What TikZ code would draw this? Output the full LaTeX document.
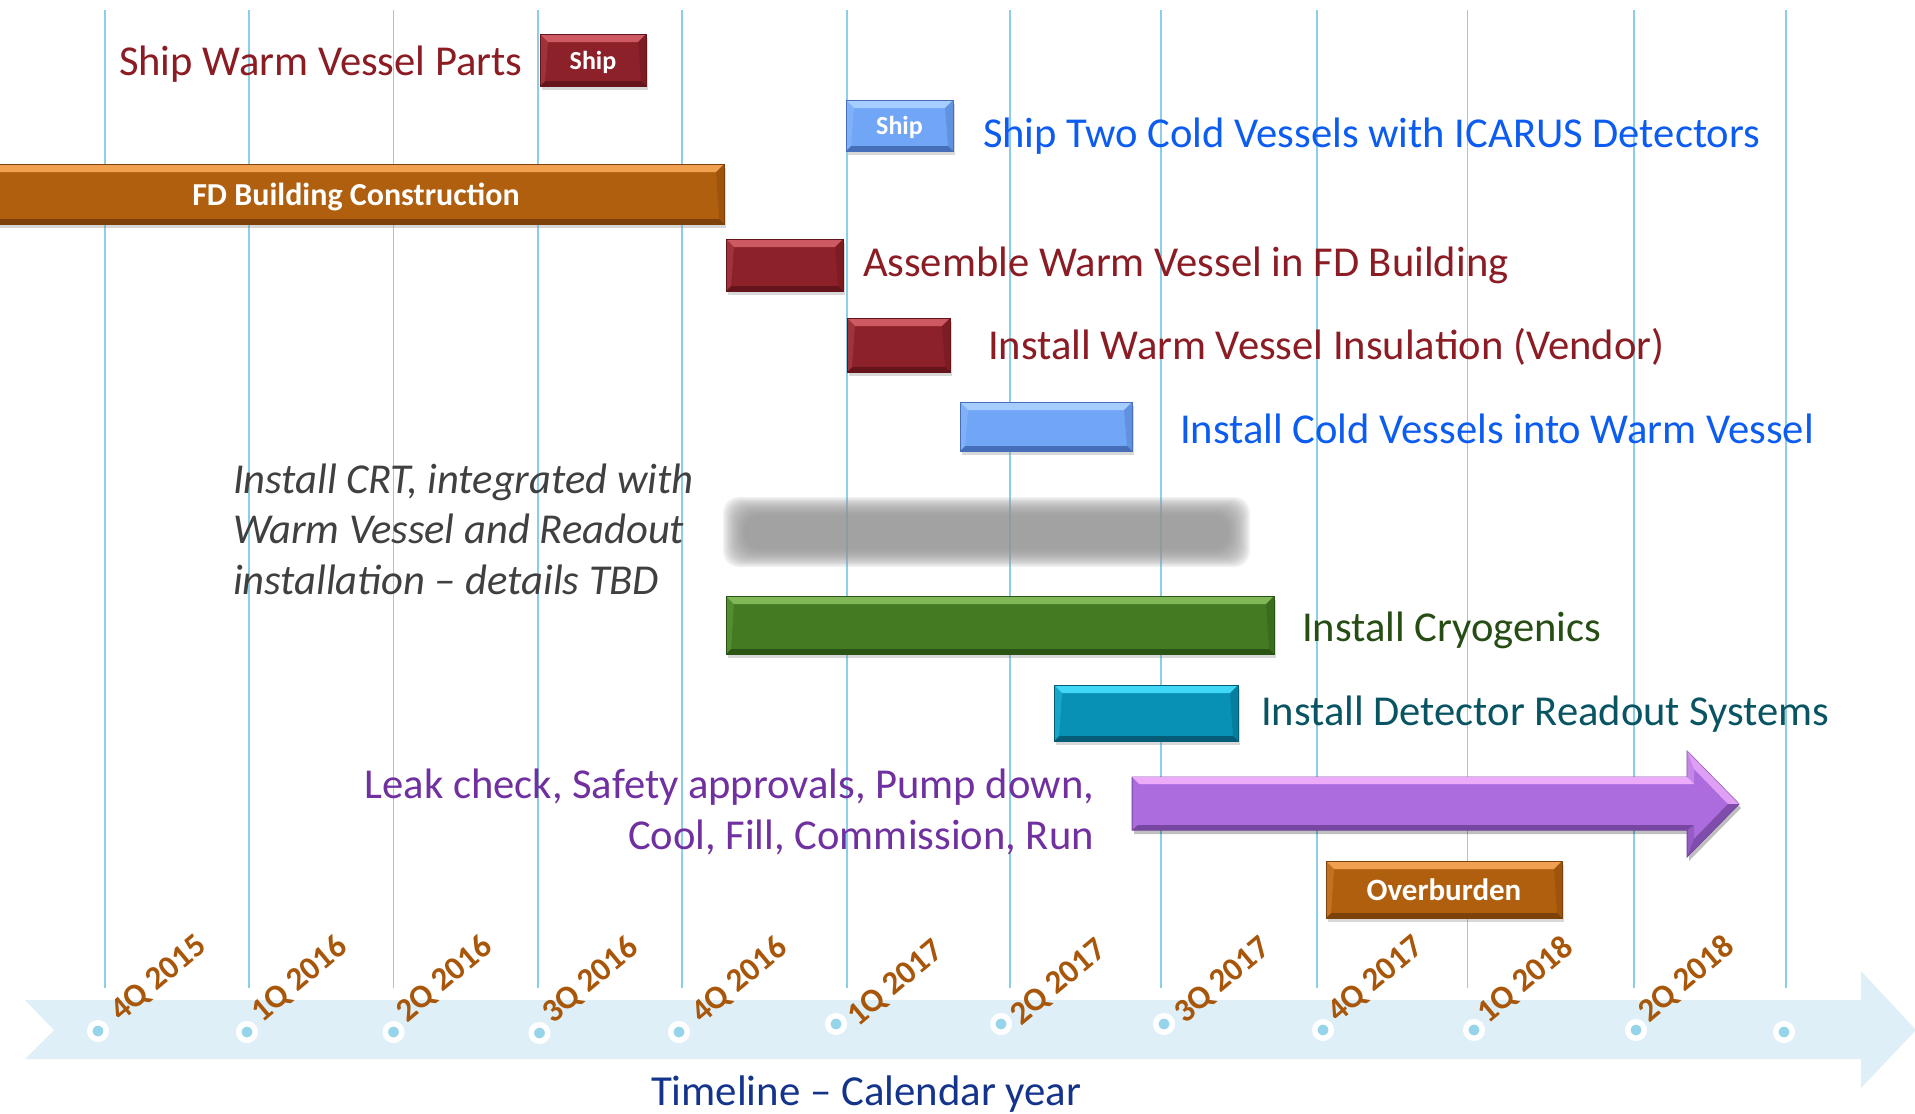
\documentclass[tikz,border=0pt]{standalone}
\usepackage{fontspec}
\setmainfont{Carlito}
\usetikzlibrary{shadows}
\definecolor{gridc}{RGB}{140,206,232}
\definecolor{ribbon}{RGB}{222,239,247}
\definecolor{dotfill}{RGB}{150,212,234}
\definecolor{qlab}{RGB}{168,86,10}
\definecolor{tred}{RGB}{140,28,36}
\definecolor{tblue}{RGB}{12,92,240}
\definecolor{tgreen}{RGB}{38,78,20}
\definecolor{tteal}{RGB}{8,84,98}
\definecolor{tpurple}{RGB}{112,48,160}
\definecolor{tgray}{RGB}{64,64,64}
\definecolor{tnavy}{RGB}{20,52,140}
\definecolor{crtgray}{RGB}{150,150,150}
\definecolor{redmain}{RGB}{140,33,41}
\definecolor{redlight}{RGB}{205,90,98}
\definecolor{reddark}{RGB}{100,20,26}
\definecolor{bluemain}{RGB}{112,166,245}
\definecolor{bluelight}{RGB}{165,205,255}
\definecolor{bluedark}{RGB}{70,110,185}
\definecolor{orangemain}{RGB}{176,95,15}
\definecolor{orangelight}{RGB}{240,160,80}
\definecolor{orangedark}{RGB}{125,65,10}
\definecolor{greenmain}{RGB}{67,122,34}
\definecolor{greenlight}{RGB}{128,184,88}
\definecolor{greendark}{RGB}{42,84,20}
\definecolor{tealmain}{RGB}{8,145,180}
\definecolor{teallight}{RGB}{64,216,246}
\definecolor{tealdark}{RGB}{5,92,118}
\definecolor{purplemain}{RGB}{172,108,222}
\definecolor{purplelight}{RGB}{236,172,250}
\definecolor{purpledark}{RGB}{118,70,160}
\newcommand\labfont{\fontsize{42.6}{50}\selectfont}
\newcommand\qfont{\fontsize{33}{38}\selectfont\bfseries}
\tikzset{
  ganttbar/.style={inner sep=0pt, outer sep=0pt, fill=#1main, draw=#1dark, line width=1pt, text=white, text depth=0pt,
    drop shadow={shadow xshift=1.5pt, shadow yshift=-4pt, opacity=0.3},
    path picture={
      \fill[#1light] (path picture bounding box.north west) -- (path picture bounding box.north east) -- ([xshift=-8pt,yshift=-8pt]path picture bounding box.north east) -- ([xshift=8pt,yshift=-8pt]path picture bounding box.north west) -- cycle;
      \fill[#1dark] (path picture bounding box.south west) -- (path picture bounding box.south east) -- ([xshift=-5pt,yshift=5pt]path picture bounding box.south east) -- ([xshift=5pt,yshift=5pt]path picture bounding box.south west) -- cycle;
      \fill[#1dark,opacity=0.35] (path picture bounding box.north east) -- (path picture bounding box.south east) -- ([xshift=-5pt,yshift=5pt]path picture bounding box.south east) -- ([xshift=-8pt,yshift=-8pt]path picture bounding box.north east) -- cycle;
      \fill[#1light,opacity=0.3] (path picture bounding box.north west) -- (path picture bounding box.south west) -- ([xshift=5pt,yshift=5pt]path picture bounding box.south west) -- ([xshift=8pt,yshift=-8pt]path picture bounding box.north west) -- cycle;
    }},
  tlabel/.style={anchor=base west, inner sep=0pt, outer sep=0pt, font=\labfont, text=#1},
  qlabel/.style={anchor=base west, inner sep=0pt, outer sep=0pt, font=\qfont, text=qlab, rotate=40},
  tdot/.style={circle, fill=dotfill, draw=white, line width=5.5pt, minimum size=16.5pt, inner sep=0pt},
  gridline/.style={draw=gridc, line width=1.4pt}
}
\begin{document}
\begin{tikzpicture}[x=1pt,y=-1pt]
\useasboundingbox[fill=white] (0,0) rectangle (1915,1114);
% grid lines
\foreach \gx in {105,249,393.5,538,682,847,1010,1161,1317,1467.5,1634,1786}
  \draw[gridline] (\gx,10) -- (\gx,988);
% timeline ribbon
\fill[ribbon] (25,1000) -- (1861,1000) -- (1861,971) -- (1916,1030) -- (1861,1088) -- (1861,1059) -- (25,1059) -- (54,1030) -- cycle;
% dots
\node[tdot] (d1) at (98,1031) {};
\node[tdot] (d2) at (247,1032) {};
\node[tdot] (d3) at (393.5,1032) {};
\node[tdot] (d4) at (539.5,1033) {};
\node[tdot] (d5) at (679,1032) {};
\node[tdot] (d6) at (836,1024) {};
\node[tdot] (d7) at (1001,1024) {};
\node[tdot] (d8) at (1164,1024) {};
\node[tdot] (d9) at (1323,1030) {};
\node[tdot] (d10) at (1474,1030) {};
\node[tdot] (d11) at (1636,1030) {};
\node[tdot] (d12) at (1784,1032) {};
% quarter labels
\node[qlabel] (q1) at (121,1022) {4Q 2015};
\node[qlabel] (q2) at (262,1023) {1Q 2016};
\node[qlabel] (q3) at (407,1023) {2Q 2016};
\node[qlabel] (q4) at (553,1024) {3Q 2016};
\node[qlabel] (q5) at (702,1024) {4Q 2016};
\node[qlabel] (q6) at (858,1027) {1Q 2017};
\node[qlabel] (q7) at (1021,1026) {2Q 2017};
\node[qlabel] (q8) at (1185,1024) {3Q 2017};
\node[qlabel] (q9) at (1338,1023) {4Q 2017};
\node[qlabel] (q10) at (1488,1024) {1Q 2018};
\node[qlabel] (q11) at (1649,1023) {2Q 2018};
\node[tlabel=tnavy, font=\fontsize{42.8}{50}\selectfont] (tl) at (651,1105) {Timeline – Calendar year};
% gray blurred CRT bar
\foreach \i in {0,...,13}
  \fill[crtgray, opacity=0.13, rounded corners=16pt] ({723+1.7*\i},{497+1.4*\i}) rectangle ({1250-1.7*\i},{567-1.4*\i});
% bars
\node[ganttbar=red, minimum width=106pt, minimum height=52pt, font=\fontsize{26}{30}\selectfont\bfseries] (shipw) at (593,60) {Ship};
\node[ganttbar=blue, minimum width=107pt, minimum height=51pt, font=\fontsize{26}{30}\selectfont\bfseries] (shipc) at (899.5,125.5) {Ship};
\node[ganttbar=orange, minimum width=736pt, minimum height=60pt, font=\fontsize{32}{36}\selectfont\bfseries] (fdb) at (356,194) {FD Building Construction};
\node[ganttbar=red, minimum width=117pt, minimum height=52pt] (asm) at (784.5,265) {};
\node[ganttbar=red, minimum width=103pt, minimum height=54pt] (ins) at (898.5,345) {};
\node[ganttbar=blue, minimum width=172pt, minimum height=49pt] (cold) at (1046,426.5) {};
\node[ganttbar=green, minimum width=548pt, minimum height=58pt] (cryo) at (1000,625) {};
\node[ganttbar=teal, minimum width=184pt, minimum height=56pt] (ro) at (1146,713) {};
\node[ganttbar=orange, minimum width=236pt, minimum height=57pt, font=\fontsize{31}{36}\selectfont\bfseries] (ovb) at (1444,889.5) {Overburden};
% purple arrow
\fill[black, opacity=0.25] (1134,781) -- (1689,781) -- (1689,755) -- (1741,808) -- (1689,861) -- (1689,834) -- (1134,834) -- cycle;
\filldraw[fill=purplemain, draw=purpledark, line width=1pt] (1132,777) -- (1687,777) -- (1687,751) -- (1739,804) -- (1687,857) -- (1687,830) -- (1132,830) -- cycle;
\fill[purplelight] (1132,777) -- (1687,777) -- (1694,784) -- (1139,784) -- cycle;
\fill[purplelight, opacity=0.8] (1687,751) -- (1739,804) -- (1728,804) -- (1694,769) -- cycle;
\fill[purplelight, opacity=0.4] (1687,777) -- (1687,751) -- (1694,769) -- (1694,784) -- cycle;
\fill[purpledark, opacity=0.8] (1739,804) -- (1687,857) -- (1694,839) -- (1728,804) -- cycle;
\fill[purpledark] (1687,830) -- (1132,830) -- (1138,825) -- (1694,825) -- cycle;
\fill[purpledark, opacity=0.4] (1687,857) -- (1687,830) -- (1694,825) -- (1694,839) -- cycle;
% texts
\node[tlabel=tred] (t1) at (119,75) {Ship Warm Vessel Parts};
\node[tlabel=tblue] (t2) at (983,147) {Ship Two Cold Vessels with ICARUS Detectors};
\node[tlabel=tred] (t3) at (863,276) {Assemble Warm Vessel in FD Building};
\node[tlabel=tred] (t4) at (988,359) {Install Warm Vessel Insulation (Vendor)};
\node[tlabel=tblue] (t5) at (1180,443) {Install Cold Vessels into Warm Vessel};
\node[tlabel=tgreen] (t6) at (1302,641) {Install Cryogenics};
\node[tlabel=tteal] (t7) at (1261,725) {Install Detector Readout Systems};
\node[tlabel=tgray, font=\labfont\itshape] (crt1) at (233,493) {Install CRT, integrated with};
\node[tlabel=tgray, font=\labfont\itshape] (crt2) at (233,543) {Warm Vessel and Readout};
\node[tlabel=tgray, font=\labfont\itshape] (crt3) at (233,594) {installation – details TBD};
\node[tlabel=tpurple, anchor=base east] (leak1) at (1094,798) {Leak check, Safety approvals, Pump down,};
\node[tlabel=tpurple, anchor=base east] (leak2) at (1094,849) {Cool, Fill, Commission, Run};
\end{tikzpicture}
\end{document}
